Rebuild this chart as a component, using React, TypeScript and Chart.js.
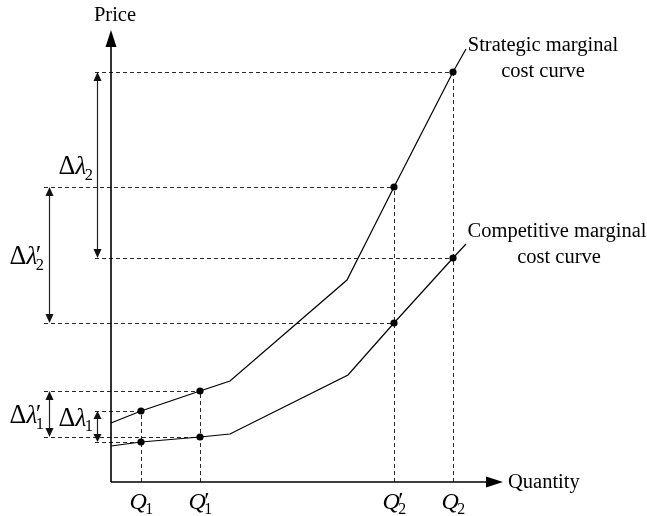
import React, { useEffect, useRef } from 'react';
import { Chart, registerables } from 'chart.js';

Chart.register(...registerables);

// ---- data (quantity and price units) ----
const quantityTicks = [3.0, 8.9, 28.3, 34.2];
const tickSubscripts = ['1', '1', '2', '2'];
const tickPrimes = [false, true, true, false];
const strategicAtTicks = [7.1, 9.1, 29.5, 41.0];
const competitiveAtTicks = [4.0, 4.5, 15.9, 22.4];

const strategicCurveQ = [0, 3.0, 8.9, 11.9, 23.6, 28.3, 34.2, 35.5];
const strategicCurveP = [5.9, 7.1, 9.1, 10.1, 20.2, 29.5, 41.0, 43.3];
const competitiveCurveQ = [0, 3.0, 8.9, 11.9, 23.7, 28.3, 34.2, 35.5];
const competitiveCurveP = [3.6, 4.0, 4.5, 4.8, 10.7, 15.9, 22.4, 23.8];

const strategicLabel = ['Strategic marginal', 'cost curve'];
const competitiveLabel = ['Competitive marginal', 'cost curve'];
const xAxisTitle = 'Quantity';
const yAxisTitle = 'Price';

// price gaps Δλ (which tick they belong to)
const gapTickIndex = [3, 2, 1, 0];
const gapSubscripts = ['2', '2', '1', '1'];
const gapPrimes = [false, true, true, false];

// ---- layout constants ----
const X_MIN = -11.1, X_MAX = 53.6, Y_MIN = -3.4, Y_MAX = 48.2;
const Q_AXIS_END = 39.2;
const P_AXIS_END = 45.2;
const INNER_COL = -1.4;
const OUTER_COL = -6.2;
const TEXT_FONT = '"Liberation Serif", "Times New Roman", serif';

function arrowHead(ctx: CanvasRenderingContext2D, x: number, y: number, dir: 'up' | 'down' | 'right', len: number, hw: number) {
  ctx.beginPath();
  if (dir === 'up') {
    ctx.moveTo(x, y); ctx.lineTo(x - hw, y + len); ctx.lineTo(x + hw, y + len);
  } else if (dir === 'down') {
    ctx.moveTo(x, y); ctx.lineTo(x - hw, y - len); ctx.lineTo(x + hw, y - len);
  } else {
    ctx.moveTo(x, y); ctx.lineTo(x - len, y - hw); ctx.lineTo(x - len, y + hw);
  }
  ctx.closePath();
  ctx.fill();
}

function mathLabel(
  ctx: CanvasRenderingContext2D, x: number, baseline: number, align: 'right' | 'center',
  prefix: string, base: string, sub: string, prime: boolean, size: number
) {
  const subSize = size * 0.66;
  ctx.font = `${size * 1.05}px ${TEXT_FONT}`;
  const wPre = prefix ? ctx.measureText(prefix).width : 0;
  ctx.font = `italic ${size}px ${TEXT_FONT}`;
  const wBase = ctx.measureText(base).width;
  ctx.font = `${subSize}px ${TEXT_FONT}`;
  const wSub = ctx.measureText(sub).width;
  const total = wPre + wBase + wSub;
  let sx = align === 'right' ? x - total : x - total / 2;
  ctx.textAlign = 'left';
  ctx.textBaseline = 'alphabetic';
  if (prefix) {
    ctx.font = `${size * 1.05}px ${TEXT_FONT}`;
    ctx.fillText(prefix, sx, baseline);
    sx += wPre;
  }
  ctx.font = `italic ${size}px ${TEXT_FONT}`;
  ctx.fillText(base, sx, baseline);
  sx += wBase;
  if (prime) {
    ctx.font = `italic ${size}px ${TEXT_FONT}`;
    ctx.fillText('\u2032', sx - size * 0.12, baseline - size * 0.04);
  }
  ctx.font = `${subSize}px ${TEXT_FONT}`;
  ctx.fillText(sub, sx - size * 0.06, baseline + size * 0.22);
}

const overlay = {
  id: 'overlay',
  beforeDatasetsDraw(chart: any) {
    const { ctx, scales } = chart;
    const px = (v: number) => scales.x.getPixelForValue(v);
    const py = (v: number) => scales.y.getPixelForValue(v);
    ctx.save();
    ctx.strokeStyle = '#2a2a2a';
    ctx.lineWidth = 1;
    ctx.setLineDash([4, 3]);
    quantityTicks.forEach((q, i) => {
      const inner = i === 0 || i === 3;
      const start = inner ? INNER_COL - 0.2 : OUTER_COL - 0.5;
      ctx.beginPath();
      ctx.moveTo(Math.round(px(q)) + 0.5, py(0));
      ctx.lineTo(Math.round(px(q)) + 0.5, py(strategicAtTicks[i]));
      ctx.stroke();
      [strategicAtTicks[i], competitiveAtTicks[i]].forEach((p) => {
        ctx.beginPath();
        ctx.moveTo(px(start), Math.round(py(p)) + 0.5);
        ctx.lineTo(px(q), Math.round(py(p)) + 0.5);
        ctx.stroke();
      });
    });
    ctx.restore();
  },
  afterDatasetsDraw(chart: any) {
    const { ctx, scales } = chart;
    const px = (v: number) => scales.x.getPixelForValue(v);
    const py = (v: number) => scales.y.getPixelForValue(v);
    ctx.save();
    // axes
    ctx.strokeStyle = '#000';
    ctx.fillStyle = '#000';
    ctx.lineWidth = 1.6;
    ctx.beginPath();
    ctx.moveTo(px(0), py(0));
    ctx.lineTo(px(0), py(P_AXIS_END) + 10);
    ctx.moveTo(px(0), py(0));
    ctx.lineTo(px(Q_AXIS_END) - 10, py(0));
    ctx.stroke();
    arrowHead(ctx, px(0), py(P_AXIS_END), 'up', 17, 5.5);
    arrowHead(ctx, px(Q_AXIS_END), py(0), 'right', 17, 5.5);

    // gap arrows
    ctx.lineWidth = 1.2;
    gapTickIndex.forEach((ti, k) => {
      const inner = ti === 0 || ti === 3;
      const x = Math.round(px(inner ? INNER_COL : OUTER_COL)) + 0.5;
      const yTop = py(strategicAtTicks[ti]);
      const yBot = py(competitiveAtTicks[ti]);
      const hl = Math.abs(yBot - yTop) < 40 ? 8 : 9;
      ctx.strokeStyle = '#222';
      ctx.fillStyle = '#111';
      ctx.beginPath();
      ctx.moveTo(x, yTop + hl - 1);
      ctx.lineTo(x, yBot - hl + 1);
      ctx.stroke();
      arrowHead(ctx, x, yTop, 'up', hl, 4);
      arrowHead(ctx, x, yBot, 'down', hl, 4);
      const mid = (yTop + yBot) / 2;
      const baseline = ti === 0 ? mid - 1 : mid + 9;
      const rightX = x - (inner ? 3 : 4);
      ctx.fillStyle = '#000';
      mathLabel(ctx, rightX, baseline, 'right', '\u0394', '\u03BB', gapSubscripts[k], gapPrimes[k], 25);
    });

    // tick labels
    ctx.fillStyle = '#000';
    quantityTicks.forEach((q, i) => {
      mathLabel(ctx, px(q) + 1, py(0) + 27, 'center', '', 'Q', tickSubscripts[i], tickPrimes[i], 24);
    });

    // axis titles
    ctx.font = `20.5px ${TEXT_FONT}`;
    ctx.textBaseline = 'middle';
    ctx.textAlign = 'left';
    ctx.fillText(xAxisTitle, px(Q_AXIS_END) + 5, py(0) + 1);
    ctx.textAlign = 'center';
    ctx.fillText(yAxisTitle, px(0) + 4, py(P_AXIS_END) - 14);

    // curve labels
    const sEnd = strategicCurveQ.length - 1;
    const cEnd = competitiveCurveQ.length - 1;
    ctx.textAlign = 'center';
    ctx.fillText(strategicLabel[0], px(strategicCurveQ[sEnd]) + 77, py(strategicCurveP[sEnd]) - 3);
    ctx.fillText(strategicLabel[1], px(strategicCurveQ[sEnd]) + 77, py(strategicCurveP[sEnd]) + 23);
    ctx.fillText(competitiveLabel[0], px(competitiveCurveQ[cEnd]) + 91, py(competitiveCurveP[cEnd]) - 12);
    ctx.fillText(competitiveLabel[1], px(competitiveCurveQ[cEnd]) + 93, py(competitiveCurveP[cEnd]) + 14);
    ctx.restore();
  },
};

export default function App() {
  const ref = useRef<HTMLCanvasElement | null>(null);
  useEffect(() => {
    if (!ref.current) return;
    const markers = [
      ...quantityTicks.map((q, i) => ({ x: q, y: strategicAtTicks[i] })),
      ...quantityTicks.map((q, i) => ({ x: q, y: competitiveAtTicks[i] })),
    ];
    const chart = new Chart(ref.current, {
      type: 'scatter',
      data: {
        datasets: [
          {
            label: 'points',
            data: markers,
            pointRadius: 3.6,
            pointBackgroundColor: '#000',
            pointBorderColor: '#000',
            pointBorderWidth: 0,
            showLine: false,
            order: 0,
          },
          {
            label: 'Strategic marginal cost curve',
            data: strategicCurveQ.map((q, i) => ({ x: q, y: strategicCurveP[i] })),
            showLine: true,
            borderColor: '#000',
            borderWidth: 1.2,
            pointRadius: 0,
            tension: 0,
            order: 1,
          },
          {
            label: 'Competitive marginal cost curve',
            data: competitiveCurveQ.map((q, i) => ({ x: q, y: competitiveCurveP[i] })),
            showLine: true,
            borderColor: '#000',
            borderWidth: 1.2,
            pointRadius: 0,
            tension: 0,
            order: 1,
          },
        ],
      },
      options: {
        animation: false,
        responsive: false,
        layout: { padding: 0, autoPadding: false },
        plugins: { legend: { display: false }, tooltip: { enabled: false } },
        scales: {
          x: { type: 'linear', min: X_MIN, max: X_MAX, display: false },
          y: { type: 'linear', min: Y_MIN, max: Y_MAX, display: false },
        },
      },
      plugins: [overlay],
    });
    return () => chart.destroy();
  }, []);
  return (
    <div style={{ position: 'absolute', left: 0, top: 0, width: 647, height: 516, background: '#fff' }}>
      <canvas ref={ref} width={647} height={516} style={{ display: 'block' }} />
    </div>
  );
}
